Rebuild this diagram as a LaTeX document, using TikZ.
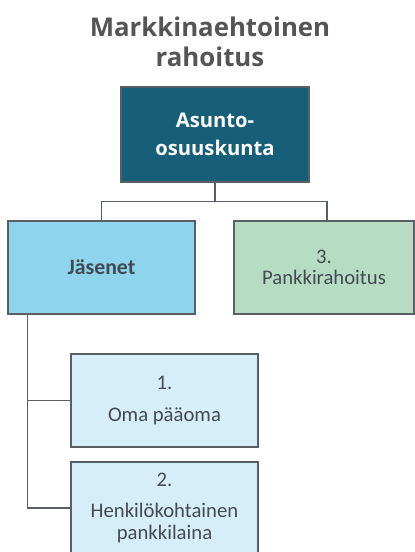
\documentclass[tikz,border=0pt]{standalone}
\usepackage{fontspec}
\setmainfont{Carlito}
\newfontfamily\headfont{Open Sans}
\definecolor{titlegray}{HTML}{555555}
\definecolor{boxtext}{HTML}{434B52}
\definecolor{edgegray}{HTML}{5A5F63}
\definecolor{coopfill}{HTML}{175E78}
\definecolor{memberfill}{HTML}{8DD4EC}
\definecolor{bankfill}{HTML}{B6DCC3}
\definecolor{subfill}{HTML}{D6EEF8}
\tikzset{
  x=1pt, y=-1pt,
  box/.style={draw=edgegray, line width=1.2pt, rectangle, inner sep=0pt,
    align=center, text=boxtext, font=\fontsize{20.7}{22}\selectfont},
  link/.style={draw=edgegray, line width=1.3pt},
}
\begin{document}
\begin{tikzpicture}
\useasboundingbox (0,0) rectangle (415,552);

% heading
\node[text=titlegray, align=center, font=\headfont\bfseries\fontsize{25.8}{30}\selectfont]
  (title) at (210,42) {Markkinaehtoinen\\rahoitus};

% organisation
\node[box, fill=coopfill, text=white, minimum width=188pt, minimum height=95pt,
  font=\headfont\bfseries\fontsize{20.2}{28}\selectfont]
  (coop) at (215,134.5) {Asunto-\\osuuskunta};

% first level
\node[box, fill=memberfill, minimum width=187pt, minimum height=93pt,
  font=\bfseries\fontsize{21.8}{22}\selectfont]
  (members) at (101.5,267.5) {Jäsenet};
\node[box, fill=bankfill, minimum width=180pt, minimum height=93pt]
  (bank) at (324,267.5) {3.\\[-0.5pt]Pankkirahoitus};

% members' sources
\node[box, fill=subfill, minimum width=187pt, minimum height=93pt]
  (own) at (164.5,400.5) {1.\\[10pt]Oma pääoma};
\node[box, fill=subfill, minimum width=187pt, minimum height=92pt]
  (loan) at (164.5,508) {2.\\[9pt]Henkilökohtainen\\pankkilaina};

% connectors
\coordinate (split) at ([yshift=-19pt]coop.south);
\draw[link] (coop.south) -- (split);
\draw[link] (split) -| (members.north);
\draw[link] (split) -| ([xshift=3pt]bank.north);
\coordinate (trunk) at ([xshift=20pt]members.south west);
\draw[link] (trunk) |- (own.west);
\draw[link] (trunk) |- (loan.west);
\end{tikzpicture}
\end{document}
